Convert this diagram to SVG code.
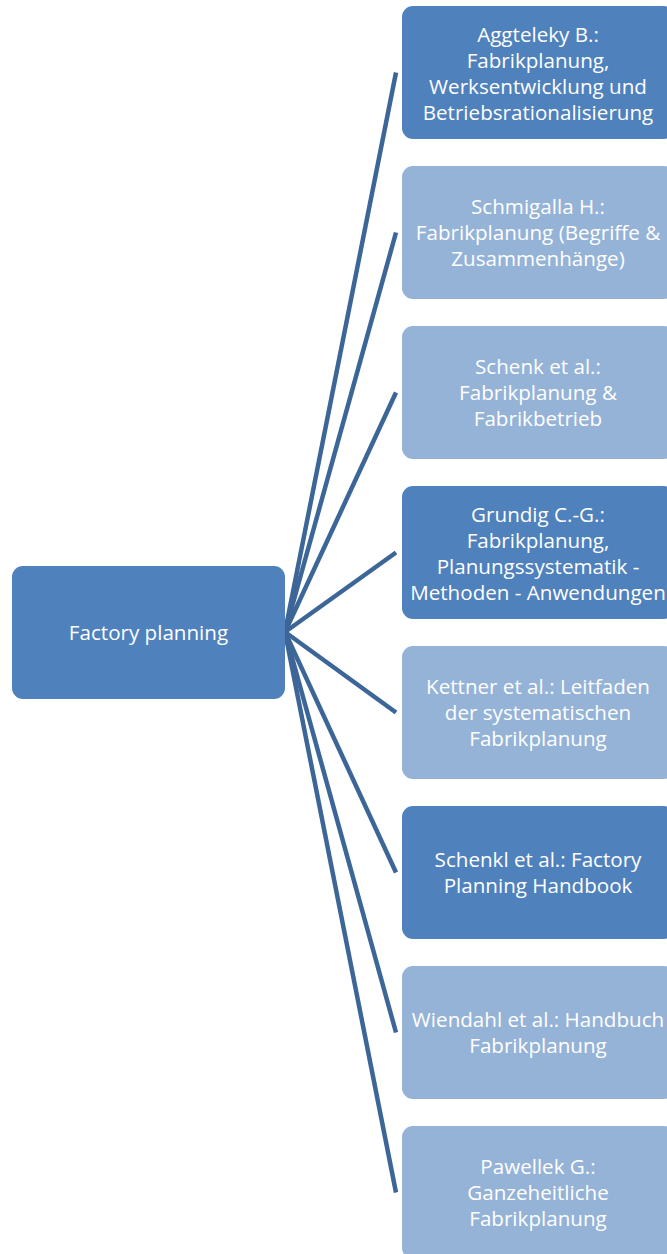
<svg xmlns="http://www.w3.org/2000/svg" width="667" height="1254" viewBox="0 0 667 1254">
  <style>
    .dark { fill: #4F81BD; }
    .light { fill: #95B3D7; }
    .lbl { font-family: "Open Sans", "Noto Sans", "DejaVu Sans", sans-serif; font-size: 20.6px; fill: #FFFFFF; text-anchor: middle; dominant-baseline: central; }
    .link { stroke: #3C6697; stroke-width: 4.5; fill: none; stroke-linecap: butt; }
  </style>
  <rect width="667" height="1254" fill="#FFFFFF"/>

  <!-- connectors from the root to each reference -->
  <g id="connectors">
    <line class="link" x1="285" y1="632" x2="396" y2="72.5"/>
    <line class="link" x1="285" y1="632" x2="396" y2="232.5"/>
    <line class="link" x1="285" y1="632" x2="396" y2="392.5"/>
    <line class="link" x1="285" y1="632" x2="396" y2="552.5"/>
    <line class="link" x1="285" y1="632" x2="396" y2="712.5"/>
    <line class="link" x1="285" y1="632" x2="396" y2="872.5"/>
    <line class="link" x1="285" y1="632" x2="396" y2="1032.5"/>
    <line class="link" x1="285" y1="632" x2="396" y2="1192.5"/>
  </g>

  <g id="root">
    <rect class="dark" x="12" y="566" width="273" height="133" rx="11"/>
    <text class="lbl" x="148.5" y="632">Factory planning</text>
  </g>

  <g id="aggteleky">
    <rect class="dark" x="402" y="6" width="273" height="133" rx="11"/>
    <text class="lbl" x="538" y="34">Aggteleky B.:</text>
    <text class="lbl" x="538" y="60">Fabrikplanung,</text>
    <text class="lbl" x="538" y="86">Werksentwicklung und</text>
    <text class="lbl" x="538" y="112">Betriebsrationalisierung</text>
  </g>

  <g id="schmigalla">
    <rect class="light" x="402" y="166" width="273" height="133" rx="11"/>
    <text class="lbl" x="538" y="206">Schmigalla H.:</text>
    <text class="lbl" x="538" y="232">Fabrikplanung (Begriffe &amp;</text>
    <text class="lbl" x="538" y="258">Zusammenhänge)</text>
  </g>

  <g id="schenk">
    <rect class="light" x="402" y="326" width="273" height="133" rx="11"/>
    <text class="lbl" x="538" y="366">Schenk et al.:</text>
    <text class="lbl" x="538" y="392">Fabrikplanung &amp;</text>
    <text class="lbl" x="538" y="418">Fabrikbetrieb</text>
  </g>

  <g id="grundig">
    <rect class="dark" x="402" y="486" width="273" height="133" rx="11"/>
    <text class="lbl" x="538" y="514">Grundig C.-G.:</text>
    <text class="lbl" x="538" y="540">Fabrikplanung,</text>
    <text class="lbl" x="538" y="566">Planungssystematik -</text>
    <text class="lbl" x="538" y="592">Methoden - Anwendungen</text>
  </g>

  <g id="kettner">
    <rect class="light" x="402" y="646" width="273" height="133" rx="11"/>
    <text class="lbl" x="538" y="686">Kettner et al.: Leitfaden</text>
    <text class="lbl" x="538" y="712">der systematischen</text>
    <text class="lbl" x="538" y="738">Fabrikplanung</text>
  </g>

  <g id="schenkl">
    <rect class="dark" x="402" y="806" width="273" height="133" rx="11"/>
    <text class="lbl" x="538" y="859">Schenkl et al.: Factory</text>
    <text class="lbl" x="538" y="885">Planning Handbook</text>
  </g>

  <g id="wiendahl">
    <rect class="light" x="402" y="966" width="273" height="133" rx="11"/>
    <text class="lbl" x="538" y="1019">Wiendahl et al.: Handbuch</text>
    <text class="lbl" x="538" y="1045">Fabrikplanung</text>
  </g>

  <g id="pawellek">
    <rect class="light" x="402" y="1126" width="273" height="133" rx="11"/>
    <text class="lbl" x="538" y="1166">Pawellek G.:</text>
    <text class="lbl" x="538" y="1192">Ganzeheitliche</text>
    <text class="lbl" x="538" y="1218">Fabrikplanung</text>
  </g>
</svg>
